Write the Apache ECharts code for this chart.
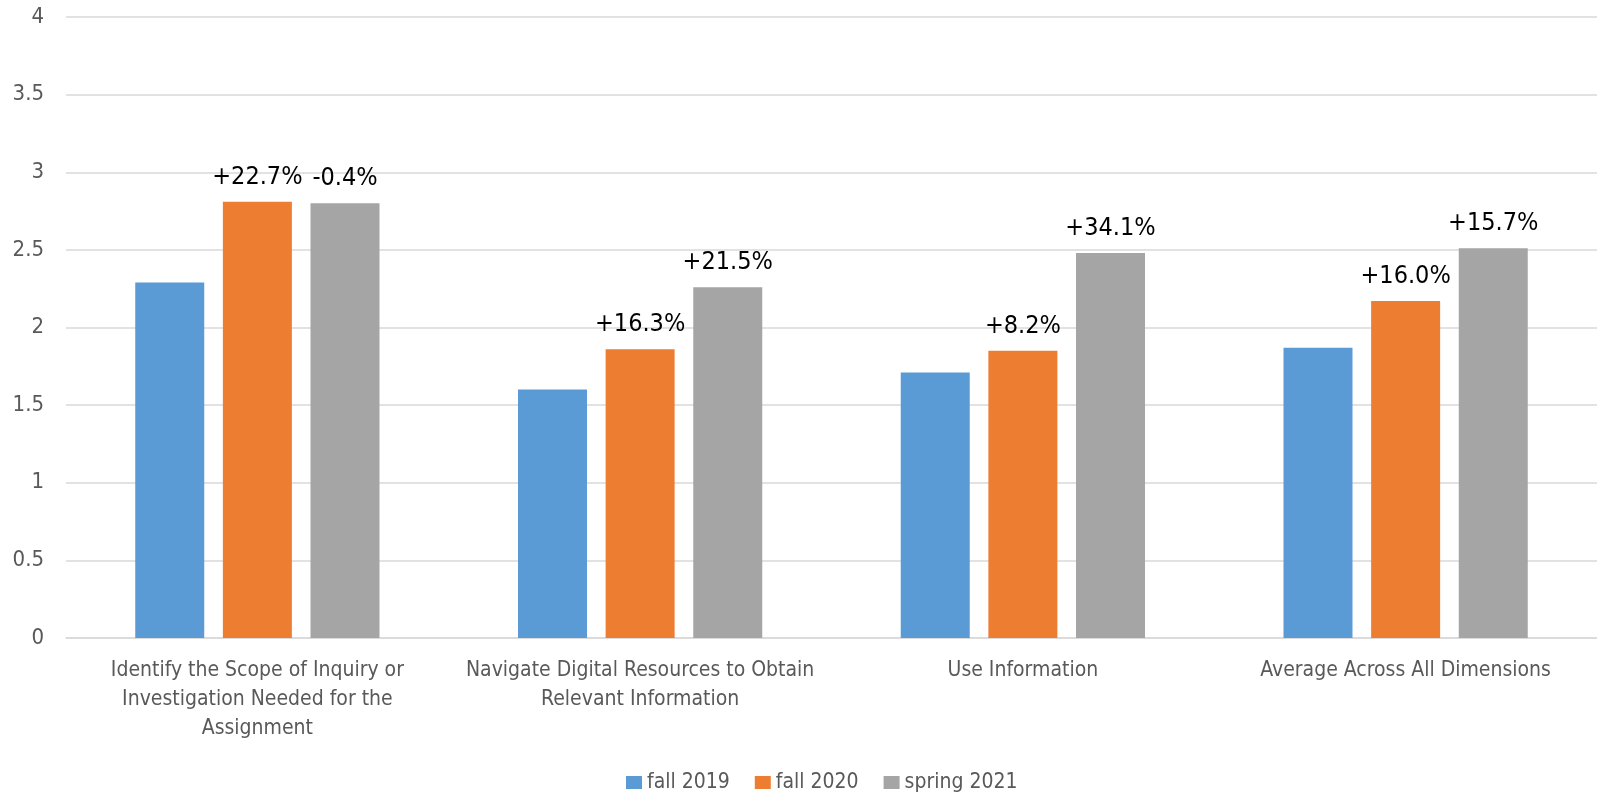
<!DOCTYPE html>
<html>
<head>
<meta charset="utf-8">
<script src="https://cdn.jsdelivr.net/npm/echarts@6/dist/echarts.min.js"></script>
<style>
html,body{margin:0;padding:0;background:#fff;}
#chart{width:1597px;height:796px;}
</style>
</head>
<body>
<div id="chart"></div>
<script>
const categories = [
  'Identify the Scope of Inquiry or\nInvestigation Needed for the\nAssignment',
  'Navigate Digital Resources to Obtain\nRelevant Information',
  'Use Information',
  'Average Across All Dimensions'
];
const seriesNames = ['fall 2019', 'fall 2020', 'spring 2021'];
const fall2019 = [2.29, 1.60, 1.71, 1.87];
const fall2020 = [2.81, 1.86, 1.85, 2.17];
const spring2021 = [2.80, 2.26, 2.48, 2.51];
const fall2020Change = ['+22.7%', '+16.3%', '+8.2%', '+16.0%'];
const spring2021Change = ['-0.4%', '+21.5%', '+34.1%', '+15.7%'];
const yTicks = [0, 0.5, 1, 1.5, 2, 2.5, 3, 3.5, 4];

const FONT = '"DejaVu Sans Condensed", "Liberation Sans Narrow", "Liberation Sans", sans-serif';
const colors = ['#5b9bd5', '#ed7d31', '#a5a5a5'];

function labelFor(arr) {
  return {
    show: true,
    position: 'top',
    distance: 12,
    color: '#000',
    fontFamily: FONT,
    fontSize: 25,
    formatter: p => arr[p.dataIndex]
  };
}

const chart = echarts.init(document.getElementById('chart'));
chart.setOption({
  animation: false,
  backgroundColor: '#fff',
  color: colors,
  textStyle: { fontFamily: FONT },
  grid: { left: 66, right: -2, top: 17, bottom: 158 },
  legend: {
    bottom: -2,
    left: 621,
    itemWidth: 16,
    itemHeight: 13,
    itemGap: 25,
    icon: 'rect',
    textStyle: { color: '#595959', fontSize: 21, fontFamily: FONT },
    data: seriesNames
  },
  xAxis: {
    type: 'category',
    data: categories,
    axisLine: { lineStyle: { color: '#d9d9d9', width: 1.5 } },
    axisTick: { show: false },
    axisLabel: {
      color: '#595959',
      fontSize: 21,
      fontFamily: FONT,
      lineHeight: 29,
      margin: 18,
      interval: 0
    }
  },
  yAxis: {
    type: 'value',
    min: yTicks[0],
    max: yTicks[yTicks.length - 1],
    interval: 0.5,
    axisLine: { show: false },
    axisTick: { show: false },
    splitLine: { lineStyle: { color: '#d9d9d9', width: 1.5 } },
    axisLabel: {
      color: '#595959',
      fontSize: 22,
      fontFamily: FONT,
      margin: 22
    }
  },
  series: [
    { name: seriesNames[0], type: 'bar', data: fall2019, barWidth: 69, barGap: '27%' },
    { name: seriesNames[1], type: 'bar', data: fall2020, barWidth: 69, barGap: '27%', label: labelFor(fall2020Change) },
    { name: seriesNames[2], type: 'bar', data: spring2021, barWidth: 69, barGap: '27%', label: labelFor(spring2021Change) }
  ]
});
</script>
</body>
</html>
